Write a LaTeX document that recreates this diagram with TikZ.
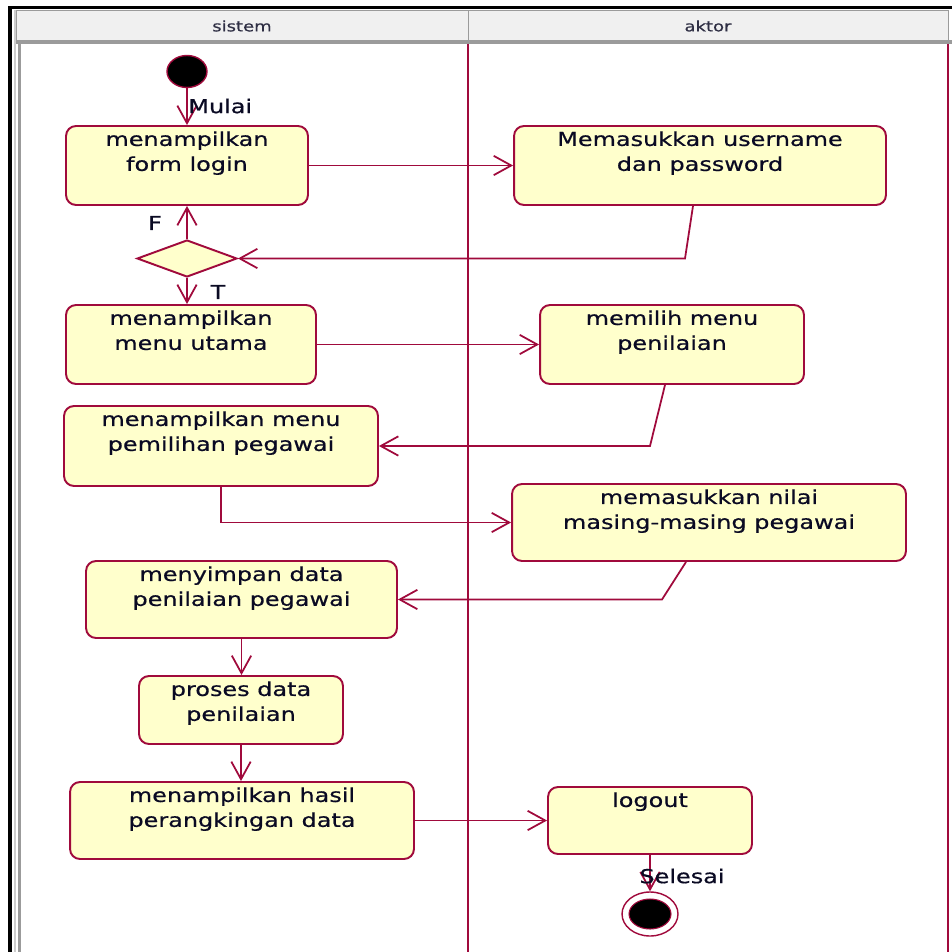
\documentclass[tikz,border=0pt]{standalone}
\usepackage{fontspec}
\setmainfont[FakeStretch=1.25, FakeBold=0.6]{DejaVu Sans}
\usetikzlibrary{arrows.meta,shapes.geometric,positioning}
\definecolor{umlred}{RGB}{160,10,60}
\definecolor{umlfill}{RGB}{255,255,204}
\definecolor{umltext}{RGB}{10,10,35}
\definecolor{headfill}{RGB}{240,240,240}
\definecolor{headline}{RGB}{155,155,155}

\begin{document}
\begin{tikzpicture}[x=0.02cm, y=-0.02cm,
    act/.style={draw=umlred, fill=umlfill, line width=1.1pt, rounded corners=0.2cm, inner sep=0pt},
    acttext/.style={anchor=north, inner sep=0pt, align=center, text=umltext, font=\fontsize{10.9}{14.2}\selectfont},
    flow/.style={draw=umlred, line width=1pt, -{Straight Barb[length=10pt, width=11pt]}},
    lbl/.style={inner sep=0pt, text=umltext, font=\fontsize{10.9}{13}\selectfont}]
  \useasboundingbox (0,0) rectangle (952,952);
  \fill[white] (0,0) rectangle (952,952);
  % swimlanes
  \draw[headline, fill=headfill] (16,10) rectangle (468,41);
  \draw[headline, fill=headfill] (468,10) rectangle (948,41);
  \draw[headline, line width=0.08cm] (16,42) -- (952,42);
  \draw[headline!50, line width=0.06cm] (15,10) -- (15,952);
  \draw[headline, line width=0.06cm] (19.5,44) -- (19.5,952);
  \draw[umlred, line width=0.04cm] (468,44) -- (468,952);
  \draw[umlred, line width=0.04cm] (948,44) -- (948,952);
  \draw[black, line width=0.07cm] (10,952) -- (10,7.5) -- (952,7.5);
  \node[text=umltext!85, font=\fontsize{8.2}{10}\selectfont] (lsistem) at (242,26) {sistem};
  \node[text=umltext!85, font=\fontsize{8.2}{10}\selectfont] (laktor) at (708,26) {aktor};
  % start and end
  \node[ellipse, fill=black, draw=umlred, line width=0.8pt, minimum width=0.8cm, minimum height=0.64cm, inner sep=0pt] (mulai) at (187,71.5) {};
  \node[ellipse, draw=umlred, line width=0.8pt, minimum width=1.12cm, minimum height=0.88cm, inner sep=0pt] (selesai) at (650,914) {};
  \node[ellipse, fill=black, draw=umlred, line width=0.6pt, minimum width=0.84cm, minimum height=0.6cm, inner sep=0pt] (selesaiin) at (selesai) {};
  % activities
  \node[act, minimum width=4.84cm, minimum height=1.58cm] (login) at (187,165.5) {};
  \node[act, minimum width=7.44cm, minimum height=1.58cm] (user) at (700,165.5) {};
  \node[diamond, draw=umlred, fill=umlfill, line width=1.1pt, minimum width=2cm, minimum height=0.74cm, inner sep=0pt] (cek) at (187,258.5) {};
  \node[act, minimum width=5cm, minimum height=1.58cm] (menu) at (191,344.5) {};
  \node[act, minimum width=5.28cm, minimum height=1.58cm] (milih) at (672,344.5) {};
  \node[act, minimum width=6.28cm, minimum height=1.6cm] (pilih) at (221,446) {};
  \node[act, minimum width=7.88cm, minimum height=1.54cm] (nilai) at (709,522.5) {};
  \node[act, minimum width=6.22cm, minimum height=1.54cm] (simpan) at (241.5,599.5) {};
  \node[act, minimum width=4.08cm, minimum height=1.36cm] (proses) at (241,710) {};
  \node[act, minimum width=6.88cm, minimum height=1.54cm] (hasil) at (242,820.5) {};
  \node[act, minimum width=4.08cm, minimum height=1.34cm] (logout) at (650,820.5) {};
  \node[acttext] (tlogin) at ([yshift=-0.12cm]login.north) {menampilkan\\form login};
  \node[acttext] (tuser) at ([yshift=-0.12cm]user.north) {Memasukkan username\\dan password};
  \node[acttext] (tmenu) at ([yshift=-0.12cm]menu.north) {menampilkan\\menu utama};
  \node[acttext] (tmilih) at ([yshift=-0.12cm]milih.north) {memilih menu\\penilaian};
  \node[acttext] (tpilih) at ([yshift=-0.12cm]pilih.north) {menampilkan menu\\pemilihan pegawai};
  \node[acttext] (tnilai) at ([yshift=-0.12cm]nilai.north) {memasukkan nilai\\masing-masing pegawai};
  \node[acttext] (tsimpan) at ([yshift=-0.12cm]simpan.north) {menyimpan data\\penilaian pegawai};
  \node[acttext] (tproses) at ([yshift=-0.12cm]proses.north) {proses data\\penilaian};
  \node[acttext] (thasil) at ([yshift=-0.12cm]hasil.north) {menampilkan hasil\\perangkingan data};
  \node[acttext] (tlogout) at ([yshift=-0.12cm]logout.north) {logout};
  % bends
  \coordinate (b1) at (685,258.5);
  \coordinate (b2) at (650,446);
  \coordinate (b3) at (662,599.5);
  % flows
  \draw[flow] (mulai.south) -- (login.north);
  \draw[flow] (login.east) -- (user.west);
  \draw[flow] ([xshift=-0.14cm]user.south) -- (b1) -- (cek.east);
  \draw[flow] (cek.north) -- (login.south);
  \draw[flow] (cek.south) -- (cek.south |- menu.north);
  \draw[flow] (menu.east) -- (milih.west);
  \draw[flow] ([xshift=-0.14cm]milih.south) -- (b2) -- (pilih.east);
  \draw[flow] (pilih.south) -- (pilih.south |- nilai.west) -- (nilai.west);
  \draw[flow] ([xshift=-0.46cm]nilai.south) -- (b3) -- (simpan.east);
  \draw[flow] (simpan.south) -- (simpan.south |- proses.north);
  \draw[flow] (proses.south) -- (proses.south |- hasil.north);
  \draw[flow] (hasil.east) -- (logout.west);
  \draw[flow] (logout.south) -- (selesai.north);
  % labels
  \node[lbl, anchor=west] (lmulai) at (188,106) {Mulai};
  \node[lbl] (lf) at (155,223) {F};
  \node[lbl] (lt) at (218,292) {T};
  \node[lbl] (lselesai) at (682,876) {Selesai};
\end{tikzpicture}
\end{document}
